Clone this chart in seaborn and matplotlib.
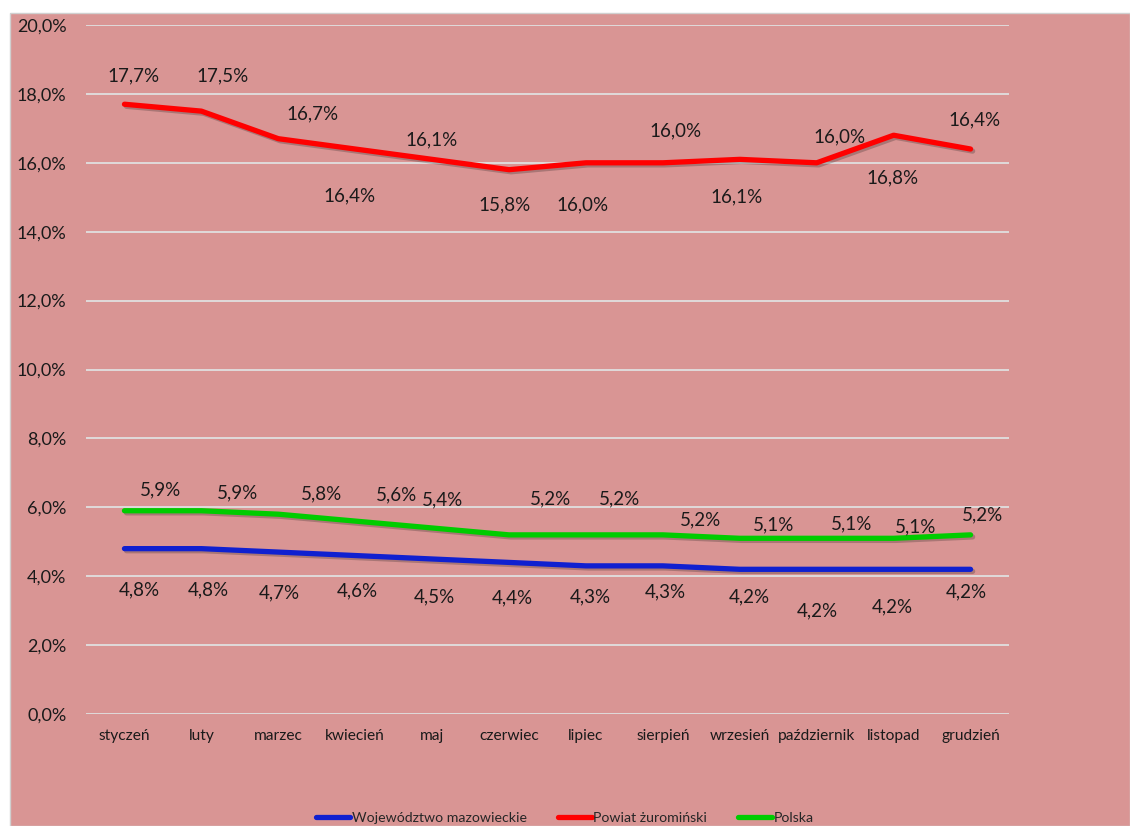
import pandas as pd
import numpy as np
import matplotlib.pyplot as plt
import matplotlib.patheffects as pe
from matplotlib.patches import Rectangle
import seaborn as sns

# ----------------------------
# DATA
# ----------------------------
months = ["styczeń", "luty", "marzec", "kwiecień", "maj", "czerwiec",
          "lipiec", "sierpień", "wrzesień", "październik", "listopad", "grudzień"]
mazowieckie = [4.8, 4.8, 4.7, 4.6, 4.5, 4.4, 4.3, 4.3, 4.2, 4.2, 4.2, 4.2]
zurominski = [17.7, 17.5, 16.7, 16.4, 16.1, 15.8, 16.0, 16.0, 16.1, 16.0, 16.8, 16.4]
polska = [5.9, 5.9, 5.8, 5.6, 5.4, 5.2, 5.2, 5.2, 5.1, 5.1, 5.1, 5.2]
series_names = ["Województwo mazowieckie", "Powiat żuromiński", "Polska"]
y_ticks = [0, 2, 4, 6, 8, 10, 12, 14, 16, 18, 20]

# label offsets (pixels) as placed in the original chart
off_blue = [(15, 41), (7, 41), (1, 41), (2, 35), (2, 38), (3, 35), (4, 31),
            (2, 26), (10, 28), (1, 42), (-1, 38), (-4, 23)]
off_red = [(9, -28), (21, -35), (34, -25), (-6, 47), (-1, -19), (-4, 35),
           (-3, 42), (13, -32), (-3, 38), (23, -26), (-1, 43), (4, -29)]
off_green = [(36, -21), (36, -18), (43, -20), (41, -26), (10, -28), (41, -36),
             (34, -36), (38, -15), (34, -13), (35, -14), (22, -11), (12, -20)]

colors = ["#1020D0", "#FF0000", "#00CC00"]
bg = "#D99594"

df = pd.DataFrame({
    "Miesiąc": months * 3,
    "Stopa": mazowieckie + zurominski + polska,
    "Seria": [series_names[0]] * 12 + [series_names[1]] * 12 + [series_names[2]] * 12,
})

# ----------------------------
# PLOT
# ----------------------------
sns.set_theme(style="white")
plt.rcParams["font.family"] = ["Lato", "DejaVu Sans"]

fig = plt.figure(figsize=(11.3, 8.26), dpi=100)
fig.patch.set_facecolor("white")
fig.patches.append(Rectangle((10 / 1130, 0), 1 - 10 / 1130, 1 - 13 / 826,
                             transform=fig.transFigure, facecolor=bg,
                             edgecolor="#D0D0D0", linewidth=1, zorder=-5))

ax = fig.add_axes([86 / 1130, (826 - 714) / 826, 923 / 1130, 689 / 826])
ax.set_zorder(2)
ax.patch.set_alpha(0)

shadow = [pe.SimpleLineShadow(offset=(1.5, -1.5), alpha=0.25), pe.Normal()]
sns.lineplot(data=df, x="Miesiąc", y="Stopa", hue="Seria", palette=colors,
             linewidth=3.8, sort=False, ax=ax, legend=False,
             solid_capstyle="round", path_effects=shadow, zorder=3)

ax.set_xlim(-0.5, 11.5)
ax.set_ylim(0, 20)
ax.set_yticks(y_ticks)
ax.set_yticklabels([f"{t:.1f}%".replace(".", ",") for t in y_ticks], fontsize=13,
                   color="#1a1a1a")
ax.set_xticks(range(12))
ax.set_xticklabels(months, fontsize=11.2, color="#1a1a1a")
ax.tick_params(axis="y", length=0, pad=14)
ax.tick_params(axis="x", length=0, pad=11)
ax.yaxis.grid(True, color="#E0E0E0", linewidth=1.3)
ax.set_axisbelow(True)
ax.set_xlabel("")
ax.set_ylabel("")
for s in ax.spines.values():
    s.set_visible(False)

for vals, offs in [(mazowieckie, off_blue), (zurominski, off_red), (polska, off_green)]:
    for i, (v, o) in enumerate(zip(vals, offs)):
        ax.annotate(f"{v:.1f}%".replace(".", ","), (i, v), xytext=(o[0], -o[1]),
                    textcoords="offset pixels", ha="center", va="center",
                    fontsize=13.5, color="#1a1a1a", zorder=5)

handles = [plt.Line2D([], [], color=c, linewidth=3.8, solid_capstyle="round")
           for c in colors]
fig.legend(handles, series_names, loc="lower center", bbox_to_anchor=(0.5, -0.013),
           ncol=3, frameon=False, fontsize=10.2, handlelength=2.4, handletextpad=0.1,
           columnspacing=2.2)

fig.savefig("out.png", dpi=100, facecolor="white")
